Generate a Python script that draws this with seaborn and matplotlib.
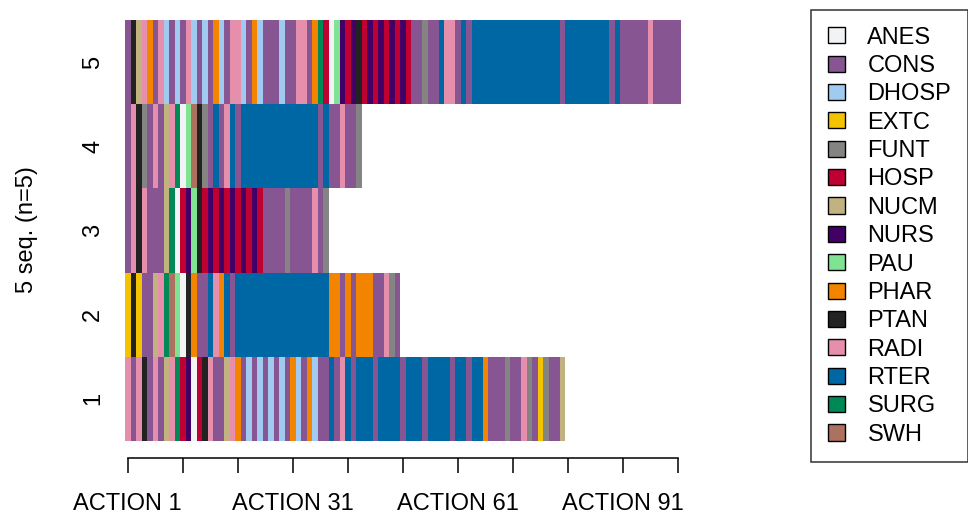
import matplotlib
matplotlib.use("Agg")
import matplotlib.pyplot as plt
from matplotlib.colors import ListedColormap
from matplotlib.patches import Patch
import numpy as np
import pandas as pd
import seaborn as sns

# %% states and colours (legend order)
states = ["ANES", "CONS", "DHOSP", "EXTC", "FUNT", "HOSP", "NUCM", "NURS",
          "PAU", "PHAR", "PTAN", "RADI", "RTER", "SURG", "SWH"]
state_colors = ["#F2F3F4", "#875692", "#A1CAF1", "#F3C300", "#848482", "#BE0032",
                "#C2B280", "#420066", "#7FE393", "#F38400", "#222222", "#E68FAC",
                "#0067A5", "#008856", "#AD7160"]

# %% sequences
seq1 = """RADI CONS RADI PTAN CONS RADI CONS NUCM RADI SURG HOSP NURS ANES HOSP PTAN
RADI CONS CONS NUCM RADI PHAR CONS DHOSP CONS DHOSP CONS DHOSP CONS DHOSP CONS
PHAR DHOSP CONS PHAR DHOSP CONS CONS RTER CONS RADI RTER CONS RTER RTER RTER
CONS RTER RTER RTER RTER CONS RTER RTER RTER CONS RTER RTER RTER RTER CONS
RTER RTER CONS RTER RTER PHAR CONS CONS CONS FUNT CONS CONS RADI FUNT CONS
EXTC FUNT CONS CONS NUCM""".split()

seq2 = """EXTC PTAN EXTC CONS CONS NUCM RADI SURG SWH PAU ANES PTAN PHAR CONS CONS
RTER RADI PHAR RTER CONS RTER RTER RTER RTER RTER RTER RTER RTER RTER RTER
RTER RTER RTER RTER RTER RTER RTER PHAR PHAR CONS PHAR CONS PHAR PHAR PHAR
CONS CONS RADI FUNT CONS""".split()

seq3 = """CONS RADI PTAN RADI CONS CONS CONS NUCM SURG ANES HOSP NURS PAU PTAN HOSP
NURS HOSP NURS HOSP NURS HOSP NURS HOSP NURS HOSP CONS CONS CONS CONS FUNT
CONS CONS CONS CONS RADI CONS FUNT""".split()

seq4 = """CONS RADI PTAN FUNT CONS RADI CONS NUCM RADI SURG ANES PAU SWH PTAN FUNT
CONS RTER CONS RADI RTER CONS RTER RTER RTER RTER RTER RTER RTER RTER RTER
RTER RTER RTER RTER RTER CONS RTER CONS CONS RADI CONS CONS FUNT""".split()

seq5 = """CONS PTAN NUCM RADI PHAR CONS RADI DHOSP CONS DHOSP CONS RADI DHOSP CONS DHOSP
CONS PHAR DHOSP CONS RADI RADI DHOSP CONS PHAR DHOSP CONS CONS CONS DHOSP CONS
CONS RADI RADI CONS PHAR SURG HOSP ANES PAU NURS HOSP NURS PTAN HOSP NURS
HOSP NURS HOSP NURS HOSP NURS HOSP CONS CONS FUNT CONS CONS RTER RADI RADI
CONS RTER CONS RTER RTER RTER RTER RTER RTER RTER RTER RTER RTER RTER RTER
RTER RTER RTER RTER CONS RTER RTER RTER RTER RTER RTER RTER RTER CONS RTER
CONS CONS CONS CONS CONS RADI CONS CONS CONS CONS CONS""".split()

row_labels = ["5", "4", "3", "2", "1"]
tick_labels = ["ACTION 1", "ACTION 31", "ACTION 61", "ACTION 91"]

# %% build a code matrix, top row first
seqs = [seq5, seq4, seq3, seq2, seq1]
n_pos = max(len(s) for s in seqs)
code = {s: i for i, s in enumerate(states)}
mat = np.full((len(seqs), n_pos), np.nan)
for r, s in enumerate(seqs):
    mat[r, :len(s)] = [code[x] for x in s]
df = pd.DataFrame(mat, index=row_labels,
                  columns=[f"ACTION {i + 1}" for i in range(n_pos)])

# %%
plt.rcParams["font.family"] = ["Liberation Sans", "DejaVu Sans"]
fig = plt.figure(figsize=(9.68, 5.14), dpi=100)
W, H = 968, 514
ax = fig.add_axes([125 / W, (H - 458) / H, 577.5 / W, 438 / H])

sns.heatmap(df, cmap=ListedColormap(state_colors), vmin=-0.5,
            vmax=len(states) - 0.5, cbar=False, ax=ax, linewidths=0)

ax.set_xlim(0, 105)
ax.set_ylim(5 + 17 / 84.2, 0)

xt = np.arange(0, n_pos + 1, 10) + 0.5
ax.set_xticks(xt)
ax.set_xticklabels([tick_labels[i // 3] if i % 3 == 0 else "" for i in range(len(xt))],
                   rotation=0, fontsize=17)
ax.tick_params(axis="x", length=11, width=1.1, pad=14.5, color="black")
ax.spines["bottom"].set_visible(True)
ax.spines["bottom"].set_bounds(xt[0], xt[-1])
ax.spines["bottom"].set_linewidth(1.1)
for sp in ["top", "left", "right"]:
    ax.spines[sp].set_visible(False)

ax.set_yticks(np.arange(len(row_labels)) + 0.5)
ax.set_yticklabels(row_labels, rotation=90, va="center", fontsize=17)
ax.tick_params(axis="y", length=0, pad=15)
ax.set_ylabel("")
ax.set_xlabel("")
fig.text(27 / W, 1 - 230 / H, "5 seq. (n=5)", rotation=90, ha="center",
         va="center", fontsize=17)

handles = [Patch(facecolor=c, edgecolor="black", linewidth=1) for c in state_colors]
leg = fig.legend(handles, states, loc="upper left",
                 bbox_to_anchor=(811 / W, 1 - 10 / H), fontsize=17,
                 frameon=True, fancybox=False, edgecolor="black",
                 handlelength=0.76, handleheight=0.68, handletextpad=0.93,
                 labelspacing=0.27, borderpad=0.7, borderaxespad=0)
leg.get_frame().set_linewidth(1.1)

fig.savefig("out.png", dpi=100)
